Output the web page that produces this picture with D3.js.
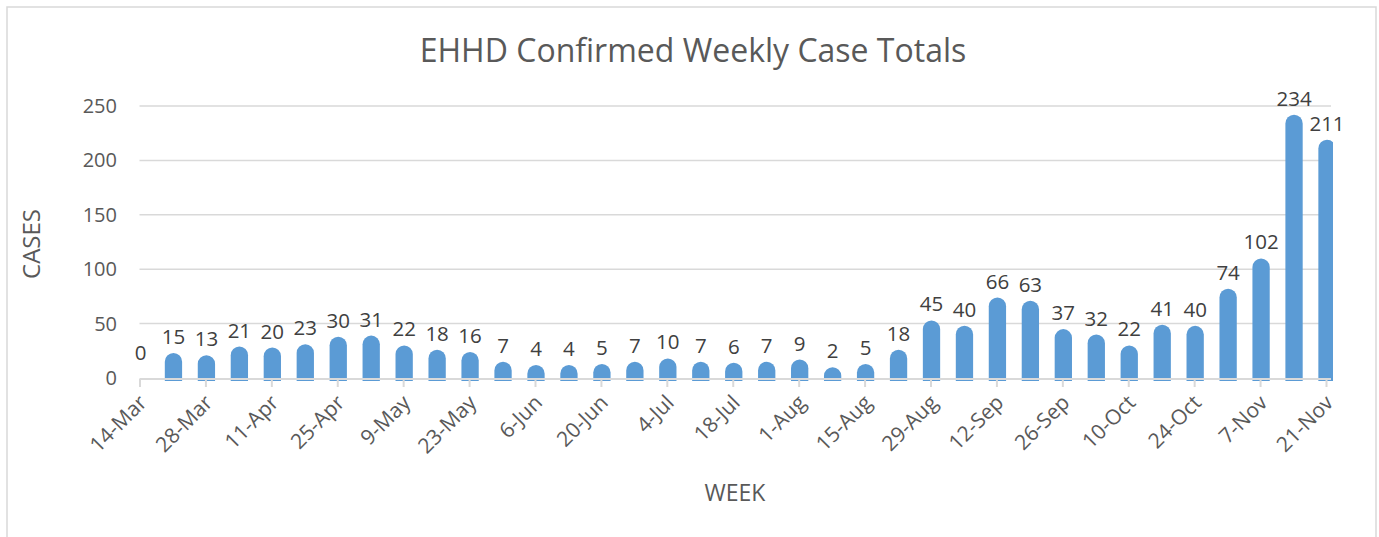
<!DOCTYPE html>
<html>
<head>
<meta charset="utf-8">
<script src="https://cdn.jsdelivr.net/npm/d3@7"></script>
<style>
  body { margin: 0; background: #fff; }
  text { font-family: "Open Sans", sans-serif; }
</style>
</head>
<body>
<div id="chart"></div>
<script>
// weekly totals, one per week starting 14-Mar
var weeks = ['14-Mar','21-Mar','28-Mar','4-Apr','11-Apr','18-Apr','25-Apr','2-May','9-May','16-May',
  '23-May','30-May','6-Jun','13-Jun','20-Jun','27-Jun','4-Jul','11-Jul','18-Jul','25-Jul',
  '1-Aug','8-Aug','15-Aug','22-Aug','29-Aug','5-Sep','12-Sep','19-Sep','26-Sep','3-Oct',
  '10-Oct','17-Oct','24-Oct','31-Oct','7-Nov','14-Nov','21-Nov'];
var cases = [0,15,13,21,20,23,30,31,22,18,16,7,4,4,5,7,10,7,6,7,9,2,5,18,45,40,66,63,37,32,22,41,40,74,102,234,211];
var yTicks = [0,50,100,150,200,250];

var W = 1379, H = 537;
var left = 139.5, right = 1326, plotRight = 1333;
var barW = 17.3, r = barW / 2;

var svg = d3.select('#chart').append('svg')
  .attr('width', W).attr('height', H);

// chart frame
svg.append('rect')
  .attr('x', 7).attr('y', 7).attr('width', 1369).attr('height', 545)
  .attr('fill', '#fff').attr('stroke', '#d9d9d9').attr('stroke-width', 1.5);

var x = d3.scalePoint().domain(weeks).range([left, right]);
var y = d3.scaleLinear().domain([0, 250]).range([378, 106]);

// gridlines
svg.append('g').selectAll('line')
  .data(yTicks.filter(function(d) { return d > 0; }))
  .enter().append('line')
  .attr('x1', left).attr('x2', 1331)
  .attr('y1', function(d) { return y(d); }).attr('y2', function(d) { return y(d); })
  .attr('stroke', '#d9d9d9').attr('stroke-width', 1.5);

// y tick labels
svg.append('g').selectAll('text')
  .data(yTicks).enter().append('text')
  .attr('x', 117).attr('y', function(d) { return y(d); })
  .attr('dy', '0.35em')
  .attr('text-anchor', 'end')
  .attr('font-size', 20).attr('fill', '#595959')
  .text(function(d) { return d; });

svg.append('clipPath').attr('id', 'plotclip')
  .append('rect').attr('x', left).attr('y', 0).attr('width', plotRight - left).attr('height', H);

// rounded-top bars
function barPath(d) {
  if (d.v <= 0) return '';
  var cx = x(d.w) + 1;
  var top = y(d.v);
  var bottom = y(0) + 3;
  return 'M' + (cx - r) + ',' + bottom +
    'L' + (cx - r) + ',' + top +
    'A' + r + ',' + r + ' 0 0 1 ' + (cx + r) + ',' + top +
    'L' + (cx + r) + ',' + bottom + 'Z';
}
var data = weeks.map(function(w, i) { return {w: w, v: cases[i]}; });

svg.append('g').attr('clip-path', 'url(#plotclip)')
  .selectAll('path').data(data).enter().append('path')
  .attr('d', barPath)
  .attr('fill', '#5b9bd5');

// x axis line + ticks every 2 weeks
var xAxis = d3.axisBottom(x)
  .tickValues(weeks.filter(function(d, i) { return i % 2 === 0; }))
  .tickSize(8).tickSizeOuter(0);
var gx = svg.append('g')
  .attr('transform', 'translate(0,379)')
  .call(xAxis);
gx.select('.domain').attr('stroke', '#d9d9d9').attr('stroke-width', 2)
  .attr('d', 'M' + left + ',0H1331');
gx.selectAll('.tick line').attr('stroke', '#d9d9d9').attr('stroke-width', 2);
gx.selectAll('.tick text')
  .attr('font-size', 21).attr('fill', '#595959')
  .attr('font-family', '"Open Sans", sans-serif')
  .attr('text-anchor', 'end')
  .attr('dy', null).attr('y', 0)
  .attr('transform', 'translate(8,25) rotate(-45)');

// data labels
svg.append('g').selectAll('text')
  .data(data).enter().append('text')
  .attr('x', function(d) { return x(d.w) + 1; })
  .attr('y', function(d) { return y(d.v) - r - 9; })
  .attr('text-anchor', 'middle')
  .attr('font-size', 20.5).attr('fill', '#404040')
  .text(function(d) { return d.v; });

// titles
svg.append('text')
  .attr('x', 693).attr('y', 62)
  .attr('text-anchor', 'middle')
  .attr('font-size', 32).attr('fill', '#595959')
  .text('EHHD Confirmed Weekly Case Totals');

svg.append('text')
  .attr('transform', 'translate(40,244) rotate(-90)')
  .attr('text-anchor', 'middle')
  .attr('font-size', 24).attr('fill', '#595959')
  .text('CASES');

svg.append('text')
  .attr('x', 735).attr('y', 501)
  .attr('text-anchor', 'middle')
  .attr('font-size', 23).attr('fill', '#595959')
  .text('WEEK');
</script>
</body>
</html>
